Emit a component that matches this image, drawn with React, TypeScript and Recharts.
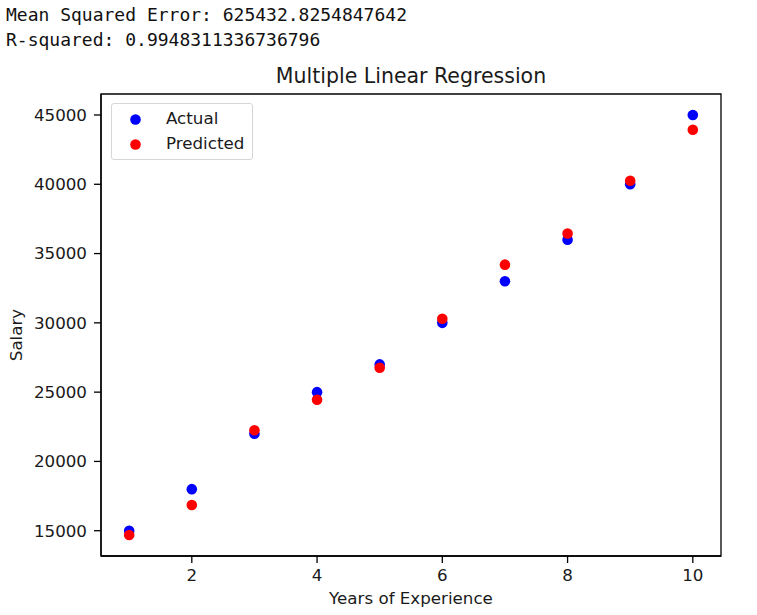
import { Legend, ReferenceArea, Scatter, ScatterChart, XAxis, YAxis } from "recharts";

const years = [1, 2, 3, 4, 5, 6, 7, 8, 9, 10];
const actualSalary = [15000, 18000, 22000, 25000, 27000, 30000, 33000, 36000, 40000, 45000];
const predictedSalary = [14690, 16860, 22250, 24450, 26760, 30300, 34200, 36450, 40250, 43940];

const xTicks = [2, 4, 6, 8, 10];
const yTicks = [15000, 20000, 25000, 30000, 35000, 40000, 45000];
const statLines = [
  "Mean Squared Error: 625432.8254847642",
  "R-squared: 0.9948311336736796",
];

const FONT = "'DejaVu Sans', sans-serif";
const INK = "#1a1a1a";
const xDomain = [0.55, 10.45];
const yDomain = [13175, 46515];

const actualData = years.map((x, i) => ({ x, y: actualSalary[i] }));
const predictedData = years.map((x, i) => ({ x, y: predictedSalary[i] }));

const axisLine = { stroke: "#000", strokeWidth: 1.3 };
const tickStyle = { fill: INK, fontSize: 16.7, fontFamily: FONT };

function dot(color: string) {
  return (p: any) => <circle cx={p.cx} cy={p.cy} r={5.3} fill={color} />;
}

function LegendBox({ payload }: any) {
  return (
    <div
      style={{
        position: "relative",
        width: 142,
        height: 57,
        boxSizing: "border-box",
        border: "1px solid #d6d6d6",
        borderRadius: 3,
        background: "rgba(255,255,255,0.8)",
        fontFamily: FONT,
        fontSize: 16.7,
        color: INK,
      }}
    >
      {(payload || []).map((e: any, i: number) => (
        <div
          key={e.value}
          style={{
            position: "absolute",
            left: 17.5,
            top: 0.5 + i * 25.9,
            height: 26,
            display: "flex",
            alignItems: "center",
            whiteSpace: "nowrap",
          }}
        >
          <svg width={11} height={11} style={{ marginTop: 3, marginRight: 25.5 }}>
            <circle cx={5.5} cy={5.5} r={5.3} fill={e.color} />
          </svg>
          <span>{e.value}</span>
        </div>
      ))}
    </div>
  );
}

function SalaryLabel(props: any) {
  const vb = props.viewBox || {};
  const x = vb.x + 16;
  const y = vb.y + vb.height / 2 + 10;
  return (
    <text
      x={x}
      y={y}
      dy="0.355em"
      textAnchor="middle"
      transform={`rotate(-90, ${x}, ${y})`}
      fill={INK}
      fontSize={16.7}
      fontFamily={FONT}
    >
      Salary
    </text>
  );
}

export default function App() {
  return (
    <div
      style={{
        position: "absolute",
        left: 0,
        top: 0,
        width: 757,
        height: 615,
        background: "#fff",
        overflow: "hidden",
      }}
    >
      <div
        style={{
          position: "absolute",
          left: 6,
          top: 2,
          fontFamily: "'DejaVu Sans Mono', monospace",
          fontSize: 18,
          lineHeight: "25.3px",
          color: "#111",
          whiteSpace: "pre",
        }}
      >
        {statLines.map((l) => (
          <div key={l}>{l}</div>
        ))}
      </div>
      <div
        style={{
          position: "absolute",
          left: 101,
          width: 620,
          top: 65.8,
          textAlign: "center",
          fontFamily: FONT,
          fontSize: 20.5,
          lineHeight: "20px",
          color: INK,
        }}
      >
        Multiple Linear Regression
      </div>
      <div style={{ position: "absolute", left: 0, top: 0 }}>
        <ScatterChart
          width={757}
          height={615}
          margin={{ top: 94, right: 36, bottom: 23, left: 0 }}
        >
          <XAxis
            dataKey="x"
            type="number"
            domain={xDomain}
            allowDataOverflow
            ticks={xTicks}
            interval={0}
            height={36}
            tickSize={7}
            tickMargin={6}
            axisLine={axisLine}
            tickLine={axisLine}
            tick={tickStyle}
            label={{
              value: "Years of Experience",
              position: "bottom",
              offset: 0,
              fill: INK,
              fontSize: 16.7,
              fontFamily: FONT,
            }}
          />
          <YAxis
            dataKey="y"
            type="number"
            domain={yDomain}
            allowDataOverflow
            ticks={yTicks}
            interval={0}
            width={101}
            tickSize={7}
            tickMargin={7}
            axisLine={axisLine}
            tickLine={axisLine}
            tick={tickStyle}
            label={<SalaryLabel />}
          />
          {/* matplotlib-style frame around the plot area */}
          <ReferenceArea
            x1={xDomain[0]}
            x2={xDomain[1]}
            y1={yDomain[0]}
            y2={yDomain[1]}
            fill="none"
            stroke="#000"
            strokeWidth={1.3}
            fillOpacity={0}
          />
          <Legend
            layout="horizontal"
            verticalAlign="middle"
            align="center"
            wrapperStyle={{ left: 111, top: 103, width: 142, height: 57 }}
            content={<LegendBox />}
          />
          <Scatter
            name="Actual"
            data={actualData}
            fill="#0000ff"
            shape={dot("#0000ff")}
            isAnimationActive={false}
          />
          <Scatter
            name="Predicted"
            data={predictedData}
            fill="#ff0000"
            shape={dot("#ff0000")}
            isAnimationActive={false}
          />
        </ScatterChart>
      </div>
    </div>
  );
}
